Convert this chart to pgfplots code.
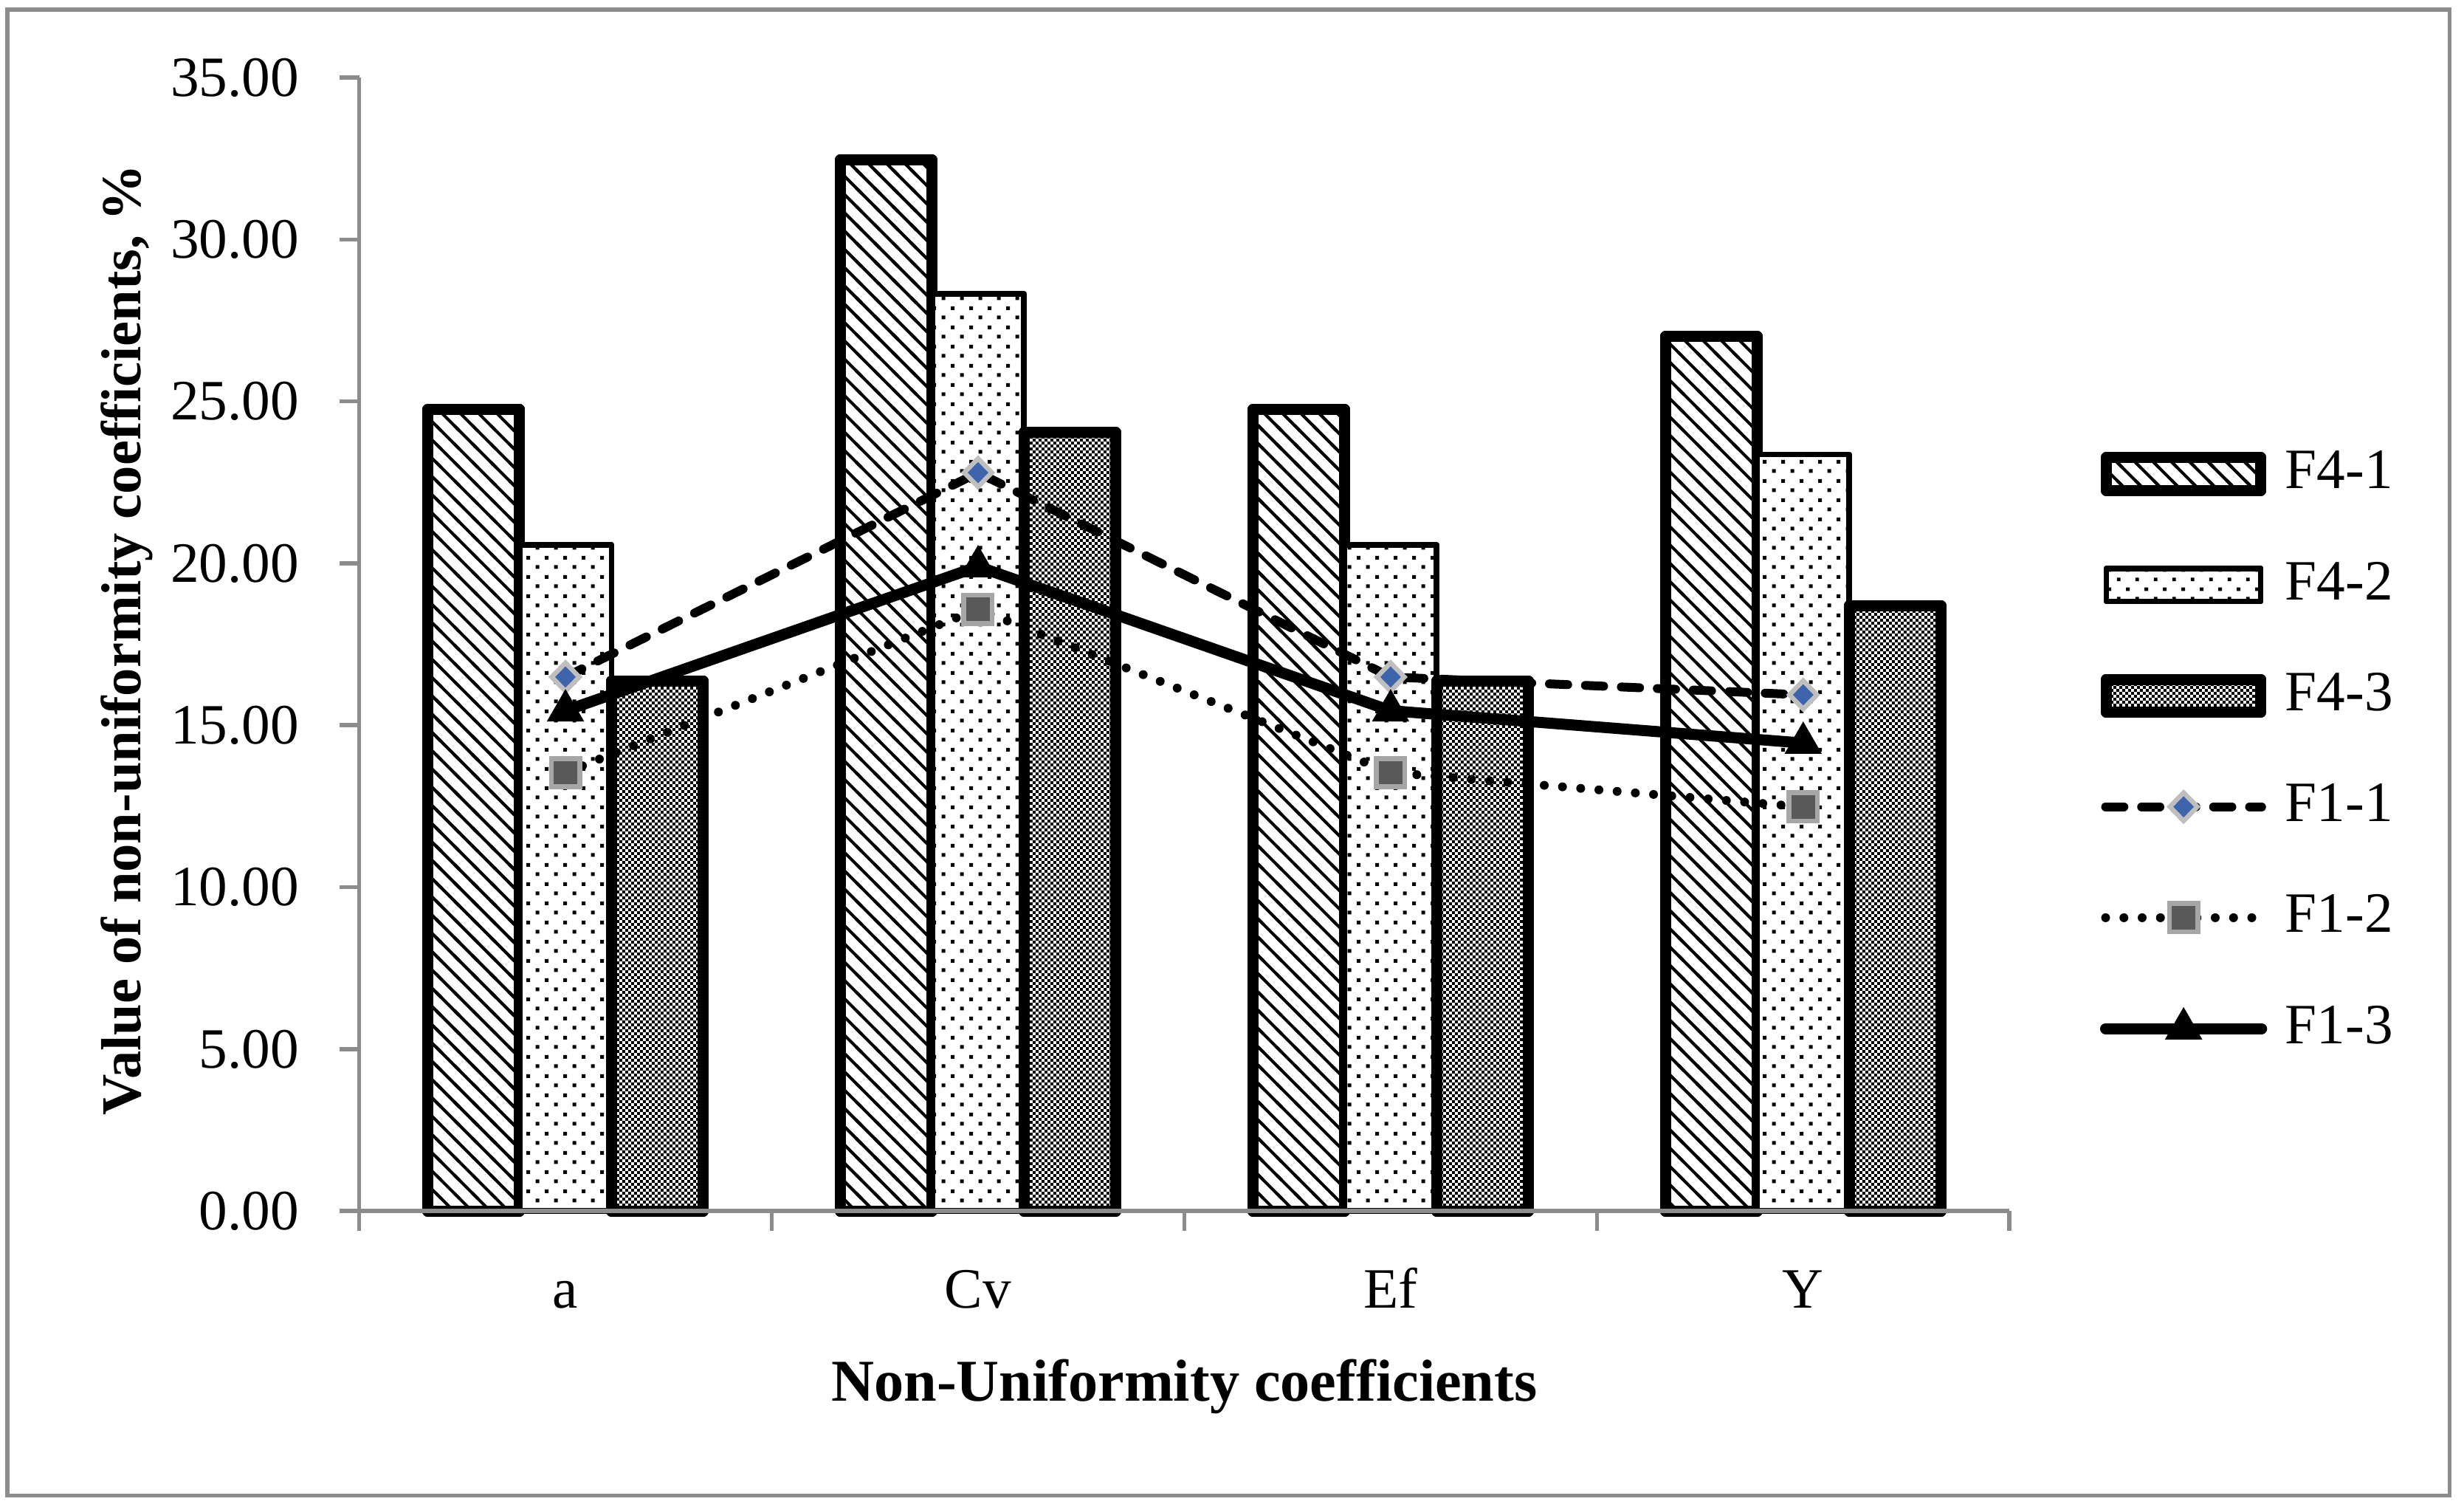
\documentclass[border=0pt]{standalone}
\usepackage{fontspec}
\setmainfont{Liberation Serif}
\usepackage{pgfplots}
\pgfplotsset{compat=1.18}
\usetikzlibrary{patterns}

\pgfdeclarepatternformonly{diagF}{\pgfqpoint{-1pt}{-1pt}}{\pgfqpoint{4.3pt}{4.3pt}}{\pgfqpoint{3.3pt}{3.3pt}}{%
  \pgfsetlinewidth{0.55pt}%
  \pgfpathmoveto{\pgfqpoint{-0.5pt}{3.8pt}}%
  \pgfpathlineto{\pgfqpoint{3.8pt}{-0.5pt}}%
  \pgfusepath{stroke}}
\pgfdeclarepatternformonly{dotsF}{\pgfqpoint{0pt}{0pt}}{\pgfqpoint{3.32pt}{3.4pt}}{\pgfqpoint{3.32pt}{3.4pt}}{%
  \pgfpathrectangle{\pgfqpoint{0.5pt}{0.5pt}}{\pgfqpoint{0.66pt}{0.66pt}}%
  \pgfpathrectangle{\pgfqpoint{2.16pt}{2.2pt}}{\pgfqpoint{0.66pt}{0.66pt}}%
  \pgfusepath{fill}}
\pgfdeclarepatternformonly{checkF}{\pgfqpoint{0pt}{0pt}}{\pgfqpoint{1.12pt}{1.12pt}}{\pgfqpoint{1.12pt}{1.12pt}}{%
  \pgfpathrectangle{\pgfqpoint{0pt}{0pt}}{\pgfqpoint{0.56pt}{0.56pt}}%
  \pgfpathrectangle{\pgfqpoint{0.56pt}{0.56pt}}{\pgfqpoint{0.56pt}{0.56pt}}%
  \pgfusepath{fill}}

\definecolor{axgray}{RGB}{140,140,140}
\definecolor{dblue}{RGB}{62,100,172}
\definecolor{lgray}{RGB}{191,191,191}
\definecolor{dgray}{RGB}{89,89,89}
\definecolor{mgray}{RGB}{166,166,166}

\pgfplotsset{
  barleg/.style={legend image code/.code={%
    \pgfpathrectangle{\pgfpoint{0cm}{-0.352cm}}{\pgfpoint{1.17cm}{0.704cm}}\pgfusepath{discard}%
    \draw[##1] (0.035cm,-0.105cm) rectangle (1.015cm,0.105cm);}},
  lineleg/.style={legend image code/.code={%
    \pgfpathrectangle{\pgfpoint{0cm}{-0.352cm}}{\pgfpoint{1.17cm}{0.704cm}}\pgfusepath{discard}%
    \draw[##1, mark repeat=2, mark phase=2] plot coordinates {(0.03cm,0cm) (0.525cm,0cm) (1.02cm,0cm)};}},
}

\begin{document}
\begin{tikzpicture}
\begin{axis}[
  at={(0,0)}, anchor=south west,
  scale only axis, width=10.475cm, height=7.193cm,
  xmin=0.5, xmax=4.5, ymin=0, ymax=35,
  clip=false, axis on top,
  axis lines*=left,
  axis line style={axgray, line width=0.75pt},
  every tick/.append style={axgray, line width=0.75pt},
  tick align=outside,
  major tick length=1.25mm,
  xtick={0.5,1.5,2.5,3.5,4.5}, xticklabels={,,,,},
  extra x ticks={1,2,3,4}, extra x tick labels={a,Cv,Ef,Υ},
  extra x tick style={major tick length=0pt,
    xticklabel style={anchor=base, yshift=-6.15mm, inner sep=0pt}},
  ytick={0,5,10,15,20,25,30,35},
  scaled y ticks=false,
  yticklabel style={/pgf/number format/fixed, /pgf/number format/fixed zerofill,
    /pgf/number format/precision=2, /pgf/number format/assume math mode=true,
    anchor=east, inner sep=0pt, xshift=-2.5mm},
  tick label style={font=\fontsize{10.3}{12}\selectfont},
  xlabel={Non-Uniformity coefficients},
  ylabel={Value of non-uniformity coefficients, \%},
  every axis x label/.style={at={(axis description cs:0.5,-0.1675)}, anchor=base,
    font=\bfseries\fontsize{10.7}{12}\selectfont},
  every axis y label/.style={at={(axis description cs:-0.1325,0.504)}, anchor=base, rotate=90,
    font=\bfseries\fontsize{10.2}{12}\selectfont},
  legend style={draw=none, fill=none, at={(1.0549,0.6992)}, anchor=north west,
    inner sep=0pt, outer sep=0pt, row sep=0pt, column sep=0pt,
    nodes={inner sep=0pt, font=\fontsize{10.3}{12}\selectfont}},
  legend cell align=left,
]
% F4 series (bars)
\addplot[ybar, bar width=5.83mm, bar shift=-5.83mm, draw=black, line width=2pt, line join=round,
  preaction={fill=white}, pattern=diagF, barleg]
  coordinates {(1,24.75) (2,32.45) (3,24.75) (4,27.00)};
\addlegendentry{F4-1}
\addplot[ybar, bar width=5.83mm, bar shift=0mm, draw=black, line width=1pt, line join=round,
  preaction={fill=white}, pattern=dotsF, barleg]
  coordinates {(1,20.57) (2,28.32) (3,20.57) (4,23.36)};
\addlegendentry{F4-2}
\addplot[ybar, bar width=5.83mm, bar shift=5.83mm, draw=black, line width=2pt, line join=round,
  preaction={fill=white}, pattern=checkF, barleg]
  coordinates {(1,16.37) (2,24.04) (3,16.37) (4,18.69)};
\addlegendentry{F4-3}
% F1 series (lines)
\addplot[sharp plot, black, line width=1.6pt, line cap=round, dash pattern=on 3.3pt off 3.2pt,
  mark=diamond*, mark size=2.55pt,
  mark options={solid, fill=dblue, draw=lgray, line width=0.85pt, xscale=1.3}, lineleg]
  coordinates {(1,16.49) (2,22.80) (3,16.49) (4,15.94)};
\addlegendentry{F1-1}
\addplot[sharp plot, black, line width=1.6pt, line cap=round, dash pattern=on 0pt off 3.3pt,
  mark=square*, mark size=2.55pt,
  mark options={solid, fill=dgray, draw=mgray, line width=0.9pt}, lineleg]
  coordinates {(1,13.54) (2,18.58) (3,13.54) (4,12.48)};
\addlegendentry{F1-2}
\addplot[sharp plot, black, line width=2pt, line cap=round,
  mark=triangle*, mark size=3.6pt,
  mark options={solid, fill=black, draw=black, line width=0.3pt}, lineleg]
  coordinates {(1,15.45) (2,19.90) (3,15.45) (4,14.45)};
\addlegendentry{F1-3}
\end{axis}
\pgfresetboundingbox
\useasboundingbox (-2.28,-1.875) rectangle (13.36,7.685);
\draw[axgray, line width=0.75pt] (-2.233,-1.805) rectangle (13.268,7.624);
\end{tikzpicture}
\end{document}
